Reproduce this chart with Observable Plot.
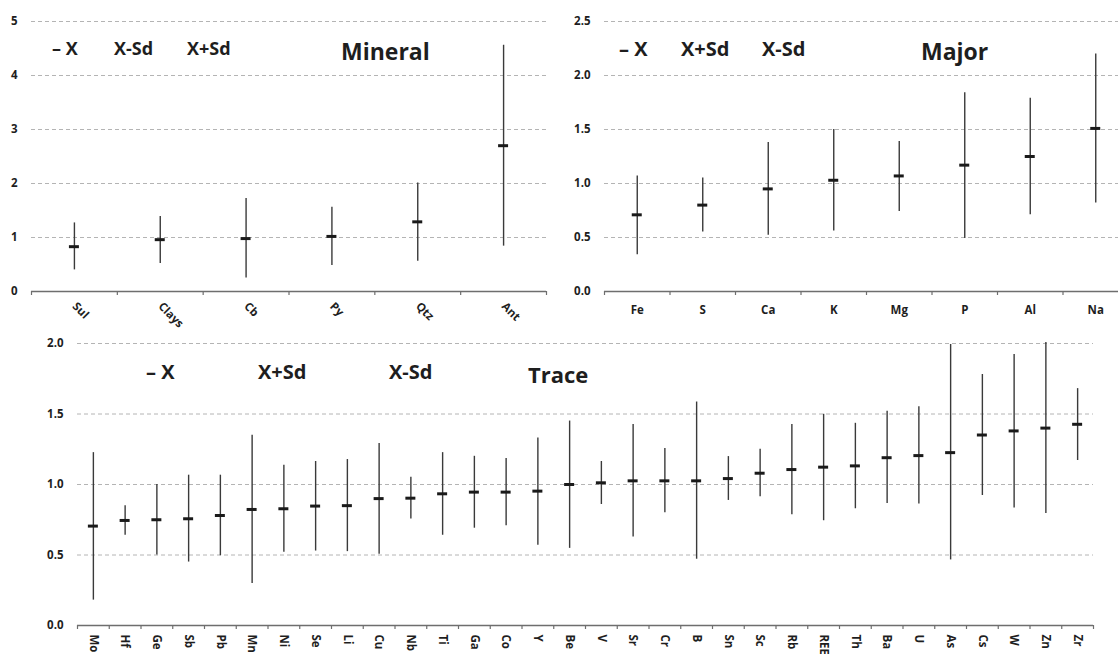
<!DOCTYPE html>
<html>
<head>
<meta charset="utf-8">
<script src="https://cdn.jsdelivr.net/npm/d3@7"></script>
<script src="https://cdn.jsdelivr.net/npm/@observablehq/plot@0.6"></script>
<style>
  html, body { margin: 0; padding: 0; background: #fff; }
  body { width: 1118px; height: 654px; overflow: hidden; position: relative; font-family: "Open Sans", sans-serif; color: #1e1e1e; }
  .panel { position: absolute; }
  .lab { position: absolute; font-weight: 700; white-space: nowrap; transform: translateY(-50%); line-height: 1; color: #1e1e1e; }
</style>
</head>
<body>
<div id="p1" class="panel" style="left:0;top:0;width:560px;height:330px"></div>
<div id="p2" class="panel" style="left:560px;top:0;width:572px;height:330px"></div>
<div id="p3" class="panel" style="left:0;top:330px;width:1118px;height:324px"></div>

<script>
// ---------- data ----------
const mineralNames = ["Sul", "Clays", "Cb", "Py", "Qtz", "Ant"];
const mineralMean  = [0.83, 0.96, 0.98, 1.02, 1.29, 2.70];
const mineralLow   = [0.40, 0.52, 0.25, 0.48, 0.56, 0.84];
const mineralHigh  = [1.27, 1.39, 1.72, 1.56, 2.01, 4.56];
const mineralTicks = [0, 1, 2, 3, 4, 5];

const majorNames = ["Fe", "S", "Ca", "K", "Mg", "P", "Al", "Na"];
const majorMean  = [0.71, 0.80, 0.95, 1.03, 1.07, 1.17, 1.25, 1.51];
const majorLow   = [0.34, 0.55, 0.52, 0.56, 0.74, 0.49, 0.71, 0.82];
const majorHigh  = [1.07, 1.05, 1.38, 1.50, 1.39, 1.84, 1.79, 2.20];
const majorTicks = [0, 0.5, 1.0, 1.5, 2.0, 2.5];

const traceNames = ["Mo","Hf","Ge","Sb","Pb","Mn","Ni","Se","Li","Cu","Nb","Ti","Ga","Co","Y","Be","V","Sr","Cr","B","Sn","Sc","Rb","REE","Th","Ba","U","As","Cs","W","Zn","Zr"];
const traceMean  = [0.705,0.745,0.75,0.757,0.78,0.823,0.828,0.847,0.85,0.90,0.903,0.934,0.946,0.946,0.953,1.00,1.012,1.026,1.026,1.026,1.042,1.08,1.106,1.123,1.132,1.19,1.205,1.226,1.351,1.38,1.40,1.427];
const traceLow   = [0.18,0.64,0.50,0.45,0.495,0.297,0.52,0.528,0.524,0.505,0.755,0.64,0.69,0.708,0.57,0.547,0.858,0.627,0.80,0.47,0.887,0.913,0.785,0.743,0.828,0.866,0.861,0.465,0.922,0.833,0.795,1.17];
const traceHigh  = [1.226,0.85,1.00,1.066,1.066,1.35,1.137,1.163,1.177,1.29,1.052,1.226,1.20,1.184,1.33,1.45,1.163,1.425,1.255,1.585,1.198,1.25,1.425,1.498,1.434,1.519,1.552,1.993,1.78,1.922,2.007,1.68];
const traceTicks = [0, 0.5, 1.0, 1.5, 2.0];

const legends = [
  {panel: "p1", items: ["– X", "X-Sd", "X+Sd"], title: "Mineral"},
  {panel: "p2", items: ["– X", "X+Sd", "X-Sd"], title: "Major"},
  {panel: "p3", items: ["– X", "X+Sd", "X-Sd"], title: "Trace"}
];

// ---------- chart builder ----------
function errorChart(cfg) {
  const n = cfg.names.length;
  const data = cfg.names.map((name, i) => ({i, name, mean: cfg.mean[i], lo: cfg.low[i], hi: cfg.high[i]}));
  const cw = (cfg.width - cfg.ml - cfg.mr) / n;
  const ins = (cw - 10) / 2;
  return Plot.plot({
    width: cfg.width,
    height: cfg.height,
    marginLeft: cfg.ml,
    marginRight: cfg.mr,
    marginTop: cfg.mt,
    marginBottom: cfg.mb,
    style: {fontFamily: "'Open Sans', sans-serif", fontSize: "11.5px", fontWeight: "bold", color: "#1e1e1e", background: "transparent", overflow: "visible", maxWidth: "none"},
    x: {type: "linear", domain: [0, n], axis: null},
    y: {domain: cfg.ydomain, axis: null},
    marks: [
      Plot.gridY({ticks: cfg.ticks.filter(t => t > 0), stroke: "#b4b4b4", strokeOpacity: 1, strokeDasharray: "4,3", strokeWidth: 1}),
      Plot.axisY({ticks: cfg.ticks, tickSize: 0, tickPadding: 14, tickFormat: cfg.yfmt, label: null, fill: "#1e1e1e"}),
      Plot.ruleY([0], {stroke: "#6e6e6e", strokeWidth: 1.3}),
      Plot.axisX({ticks: d3.range(n + 1), tickSize: 4, tickFormat: () => "", label: null, stroke: "#6e6e6e", strokeWidth: 1.2}),
      Plot.axisX({ticks: d3.range(n).map(i => i + 0.5), tickSize: 0, tickPadding: cfg.tp, tickRotate: cfg.rot, tickFormat: v => cfg.names[Math.round(v - 0.5)], label: null, fill: "#1e1e1e", fontSize: cfg.xfs}),
      Plot.ruleX(data, {x: d => d.i + 0.5, y1: "lo", y2: "hi", stroke: "#3a3a3a", strokeWidth: 1.4}),
      Plot.ruleY(data, {x1: "i", x2: d => d.i + 1, y: "mean", insetLeft: ins, insetRight: ins, stroke: "#1a1a1a", strokeWidth: 3})
    ]
  });
}

document.getElementById("p1").appendChild(errorChart({
  names: mineralNames, mean: mineralMean, low: mineralLow, high: mineralHigh,
  ticks: mineralTicks, ydomain: [0, 5], yfmt: d3.format("d"),
  width: 560, height: 330, ml: 31, mr: 14, mt: 21, mb: 39, rot: 45, tp: 13, xfs: 11.5
}));
document.getElementById("p2").appendChild(errorChart({
  names: majorNames, mean: majorMean, low: majorLow, high: majorHigh,
  ticks: majorTicks, ydomain: [0, 2.5], yfmt: d3.format(".1f"),
  width: 572, height: 330, ml: 44, mr: 4, mt: 21, mb: 39, rot: 0, tp: 14, xfs: 11.5
}));
document.getElementById("p3").appendChild(errorChart({
  names: traceNames, mean: traceMean, low: traceLow, high: traceHigh,
  ticks: traceTicks, ydomain: [0, 2], yfmt: d3.format(".1f"),
  width: 1118, height: 324, ml: 77, mr: 25, mt: 13, mb: 29, rot: 90, tp: 9, xfs: 11.5
}));

// ---------- legend & title texts ----------
const legendLayout = {
  p1: {xs: [52, 114, 187], y: 48, fs: 18, tx: 341, ty: 51, tfs: 23},
  p2: {xs: [59, 121, 202], y: 49, fs: 20, tx: 361, ty: 51, tfs: 23},
  p3: {xs: [146, 258, 389], y: 42, fs: 20, tx: 528, ty: 44, tfs: 22}
};
for (const lg of legends) {
  const host = document.getElementById(lg.panel);
  const L = legendLayout[lg.panel];
  lg.items.forEach((t, k) => {
    const d = document.createElement("div");
    d.className = "lab";
    d.textContent = t;
    d.style.left = L.xs[k] + "px";
    d.style.top = L.y + "px";
    d.style.fontSize = L.fs + "px";
    host.appendChild(d);
  });
  const t = document.createElement("div");
  t.className = "lab";
  t.textContent = lg.title;
  t.style.left = L.tx + "px";
  t.style.top = L.ty + "px";
  t.style.fontSize = L.tfs + "px";
  host.appendChild(t);
}
</script>
</body>
</html>
